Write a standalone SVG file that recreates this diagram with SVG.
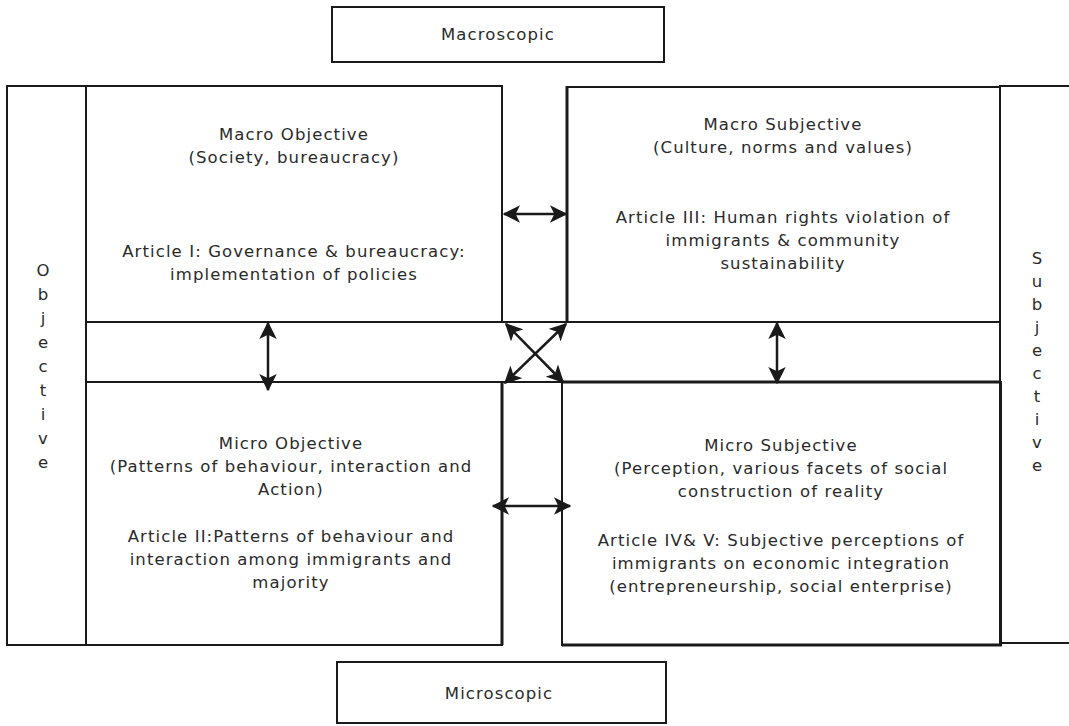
<svg xmlns="http://www.w3.org/2000/svg" width="1069" height="726" viewBox="0 0 1069 726">
<defs>
<style>
.box{fill:none;stroke:#1a1a1a;stroke-width:2}
.thick{fill:none;stroke:#1a1a1a;stroke-width:3}
.t{font-family:"DejaVu Sans",sans-serif;font-size:16.5px;letter-spacing:1.1px;fill:#2a2a2a;text-anchor:middle}
.v{font-family:"DejaVu Sans",sans-serif;font-size:16.5px;fill:#2a2a2a;text-anchor:middle}
.con{stroke:#1a1a1a;stroke-width:2.5;fill:none;marker-start:url(#ah);marker-end:url(#ah)}
</style>
<marker id="ah" viewBox="0 0 12 12" refX="11" refY="6" markerWidth="7" markerHeight="7" orient="auto-start-reverse" markerUnits="strokeWidth">
<path d="M0,0 L12,6 L0,12 L3,6 z" fill="#1a1a1a"/>
</marker>
</defs>
<rect width="1069" height="726" fill="#fff"/>

<g id="macroscopic">
<rect class="box" x="332" y="7" width="332" height="55"/>
<text class="t" x="498" y="40">Macroscopic</text>
</g>
<g id="microscopic">
<rect class="box" x="337" y="662" width="329" height="61"/>
<text class="t" x="499" y="699">Microscopic</text>
</g>

<g id="objective">
<rect class="box" x="7" y="86" width="79" height="559"/>
<text class="v"><tspan x="43" y="276">O</tspan><tspan x="43" y="300">b</tspan><tspan x="43" y="324">j</tspan><tspan x="43" y="348">e</tspan><tspan x="43" y="372">c</tspan><tspan x="43" y="396">t</tspan><tspan x="43" y="420">i</tspan><tspan x="43" y="444">v</tspan><tspan x="43" y="468">e</tspan></text>
</g>
<g id="subjective">
<rect class="box" x="1000" y="86" width="80" height="557"/>
<text class="v"><tspan x="1037" y="264">S</tspan><tspan x="1037" y="287">u</tspan><tspan x="1037" y="310">b</tspan><tspan x="1037" y="333">j</tspan><tspan x="1037" y="356">e</tspan><tspan x="1037" y="379">c</tspan><tspan x="1037" y="402">t</tspan><tspan x="1037" y="425">i</tspan><tspan x="1037" y="448">v</tspan><tspan x="1037" y="471">e</tspan></text>
</g>

<g id="band">
<rect class="box" x="86" y="322" width="914" height="60"/>
</g>

<g id="upper-column">
<line class="box" x1="502" y1="86" x2="502" y2="322"/>
<line class="thick" x1="567" y1="86" x2="567" y2="322"/>
</g>
<g id="lower-column">
<line class="thick" x1="502" y1="382" x2="502" y2="645"/>
<line class="box" x1="562" y1="382" x2="562" y2="645"/>
</g>

<g id="macro-objective">
<rect class="box" x="86" y="86" width="416" height="236"/>
<text class="t"><tspan x="294" y="140">Macro Objective</tspan><tspan x="294" y="163">(Society, bureaucracy)</tspan><tspan x="294" y="257">Article I: Governance &amp; bureaucracy:</tspan><tspan x="294" y="280">implementation of policies</tspan></text>
</g>
<g id="macro-subjective">
<rect class="box" x="567" y="87" width="433" height="235"/>
<text class="t"><tspan x="783" y="130">Macro Subjective</tspan><tspan x="783" y="153">(Culture, norms and values)</tspan><tspan x="783" y="223">Article III: Human rights violation of</tspan><tspan x="783" y="246">immigrants &amp; community</tspan><tspan x="783" y="269">sustainability</tspan></text>
</g>
<g id="micro-objective">
<rect class="box" x="86" y="382" width="416" height="263"/>
<text class="t"><tspan x="291" y="449">Micro Objective</tspan><tspan x="291" y="472">(Patterns of behaviour, interaction and</tspan><tspan x="291" y="495">Action)</tspan><tspan x="291" y="542">Article II:Patterns of behaviour and</tspan><tspan x="291" y="565">interaction among immigrants and</tspan><tspan x="291" y="588">majority</tspan></text>
</g>
<g id="micro-subjective">
<rect class="box" x="562" y="382" width="439" height="263"/>
<line class="thick" x1="562" y1="645" x2="1002" y2="645"/>
<line class="thick" x1="562" y1="382" x2="1001" y2="382"/>
<text class="t"><tspan x="781" y="451">Micro Subjective</tspan><tspan x="781" y="474">(Perception, various facets of social</tspan><tspan x="781" y="497">construction of reality</tspan><tspan x="781" y="546">Article IV&amp; V: Subjective perceptions of</tspan><tspan x="781" y="569">immigrants on economic integration</tspan><tspan x="781" y="592">(entrepreneurship, social enterprise)</tspan></text>
</g>

<g id="connectors">
<line class="con" x1="504" y1="214" x2="566" y2="214"/>
<line class="con" x1="493" y1="506" x2="570" y2="506"/>
<line class="con" x1="268" y1="323" x2="268" y2="390"/>
<line class="con" x1="777" y1="323" x2="777" y2="383"/>
<line class="con" x1="506" y1="324" x2="563" y2="382"/>
<line class="con" x1="566" y1="324" x2="505" y2="383"/>
</g>
</svg>
